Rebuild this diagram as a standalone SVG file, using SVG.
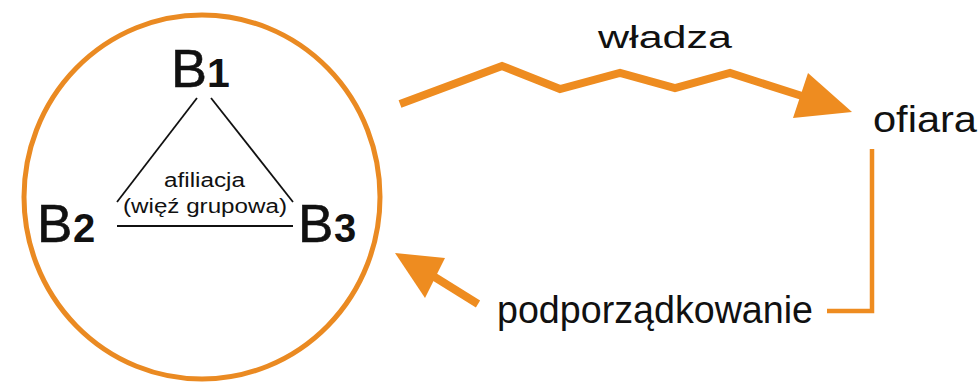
<svg xmlns="http://www.w3.org/2000/svg" width="979" height="385" viewBox="0 0 979 385">
<defs>
<style>
.t{font-family:"Liberation Sans",Arial,sans-serif;fill:#111}
.b{font-family:"Liberation Sans",Arial,sans-serif;fill:#111;stroke:#111;stroke-width:0.6}
.d{font-family:"Liberation Sans",Arial,sans-serif;font-weight:bold;fill:#111}
.or{fill:none;stroke:#EE8C20;stroke-linejoin:miter}
.bl{stroke:#111;stroke-width:1.8;fill:none}
.ah{fill:#EE8C20}
</style>
</defs>
<rect width="979" height="385" fill="#fff"/>
<g id="group">
<ellipse cx="202" cy="197" rx="178" ry="182" fill="none" stroke="#EA8A22" stroke-width="5"/>
<g id="b1"><text class="b" x="171" y="87" font-size="54">B</text><text class="d" x="207" y="87" font-size="41">1</text></g>
<g id="b2"><text class="b" x="37" y="242" font-size="53">B</text><text class="d" x="73" y="242" font-size="40">2</text></g>
<g id="b3"><text class="b" x="298" y="242" font-size="53">B</text><text class="d" x="334" y="242" font-size="40">3</text></g>
<g id="triangle">
<line class="bl" x1="197" y1="98" x2="117" y2="202"/>
<line class="bl" x1="211" y1="98" x2="293" y2="202"/>
<line class="bl" x1="117" y1="226" x2="293" y2="226"/>
<text class="t" x="164" y="187" font-size="20" textLength="81" lengthAdjust="spacingAndGlyphs">afiliacja</text>
<text class="t" x="123" y="213" font-size="20" textLength="164" lengthAdjust="spacingAndGlyphs">(więź grupowa)</text>
</g>
</g>
<g id="ofiara"><text class="t" x="873" y="132" font-size="37" textLength="104" lengthAdjust="spacingAndGlyphs">ofiara</text></g>
<g id="connectors">
<polyline class="or" stroke-width="8" points="400,104 502,66 560,89 620,73 675,88 730,73 802,96"/>
<polygon class="ah" points="808,73 852,112 793,118"/>
<text class="t" x="598" y="48" font-size="31" textLength="134" lengthAdjust="spacingAndGlyphs">władza</text>
<polyline class="or" stroke-width="4.5" points="872,149 872,311 827,311"/>
<line class="or" stroke-width="8" x1="478" y1="304" x2="433" y2="276"/>
<polygon class="ah" points="395,253 445,258 425,298"/>
<text class="t" x="497" y="323" font-size="38" textLength="316" lengthAdjust="spacingAndGlyphs">podporządkowanie</text>
</g>
</svg>
